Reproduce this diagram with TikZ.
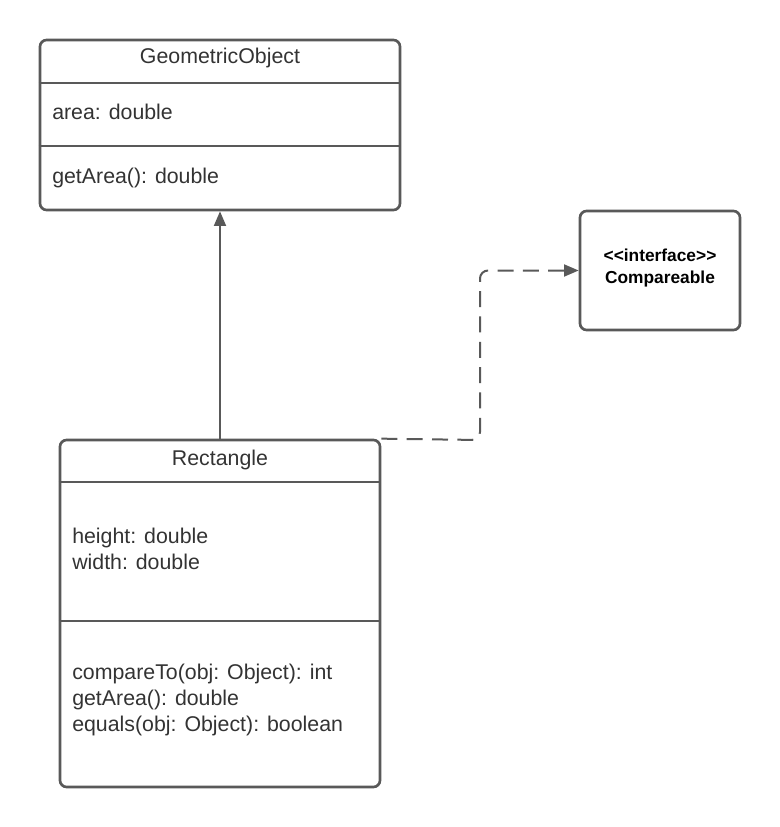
\documentclass[tikz,border=0pt]{standalone}
\usepackage{fontspec}
\setmainfont{Liberation Sans}
\usetikzlibrary{arrows.meta, positioning}

\definecolor{umlline}{HTML}{595959}
\definecolor{umltext}{HTML}{333333}

\begin{document}
\begin{tikzpicture}[x=0.75pt, y=-0.75pt,
	classbox/.style={draw=umlline, line width=2pt, rounded corners=5pt, inner sep=0pt},
	divider/.style={draw=umlline, line width=2pt},
	member/.style={text=umltext, font=\fontsize{16}{19.5}\selectfont, inner sep=0pt, align=left},
	inherit/.style={draw=umlline, line width=1.5pt, -{Triangle[length=11pt, width=9pt]}},
	realize/.style={draw=umlline, line width=1.5pt, dash pattern=on 12pt off 7pt, rounded corners=6pt, -{Triangle[length=11pt, width=9pt]}}]
	\useasboundingbox (0,0) rectangle (780,827);

	% Class boxes
	\node[classbox, minimum width=270pt, minimum height=127.5pt] (geo) at (220,125) {};
	\node[classbox, minimum width=240pt, minimum height=260.25pt] (rect) at (220,613.5) {};
	\node[classbox, minimum width=120pt, minimum height=89.25pt] (comp) at (660,270.5) {};

	% GeometricObject
	\node[member] (geoName) at (220,58) {GeometricObject};
	\draw[divider] (geo.west |- 0,83) -- (geo.east |- 0,83);
	\node[member, anchor=west] (geoAttr) at (52,112) {area: double};
	\draw[divider] (geo.west |- 0,146) -- (geo.east |- 0,146);
	\node[member, anchor=west] (geoOps) at (52,178) {getArea(): double};

	% Rectangle
	\node[member] (rectName) at (220,460) {Rectangle};
	\draw[divider] (rect.west |- 0,482) -- (rect.east |- 0,482);
	\node[member, anchor=west] (rectAttr) at (72,549) {height: double\\width: double};
	\draw[divider] (rect.west |- 0,621) -- (rect.east |- 0,621);
	\node[member, anchor=west] (rectOps) at (72,700) {compareTo(obj: Object): int\\getArea(): double\\equals(obj: Object): boolean};

	% Compareable
	\node[align=center, font=\bfseries\fontsize{13}{16}\selectfont, inner sep=0pt] (compName) at (660,268) {<{}<interface>{}>\\Compareable};

	% Connectors
	\draw[inherit] (rect.north) -- (geo.south);
	\coordinate (bend) at (480,440);
	\draw[realize] (rect.north east) -- (bend) -- (bend |- comp.west) -- (comp.west);
\end{tikzpicture}
\end{document}
